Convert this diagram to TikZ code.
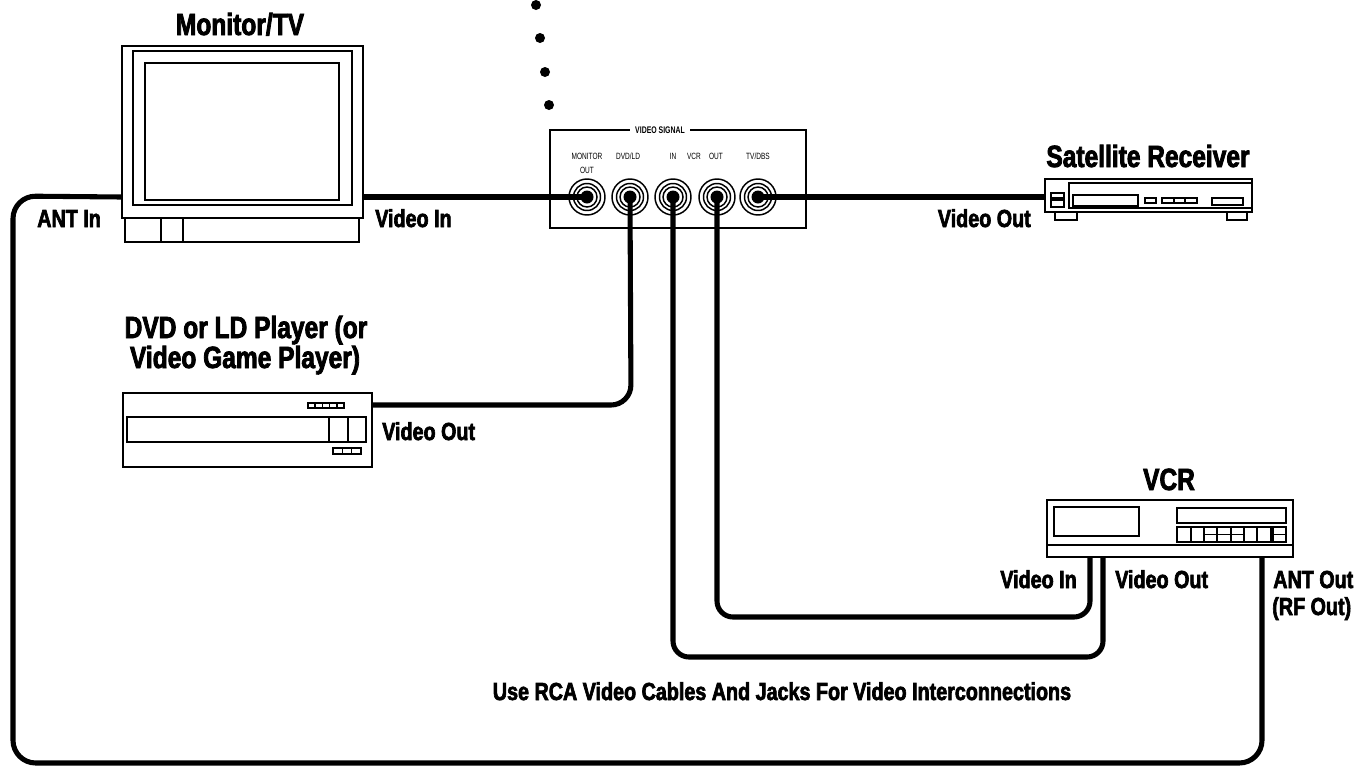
\documentclass[tikz,border=0pt]{standalone}
\usepackage{fontspec}
\newfontfamily\labf[FakeStretch=0.8,BoldFeatures={FakeBold=2.6}]{Liberation Sans}
\newfontfamily\panf[FakeStretch=0.72]{Liberation Sans}
\begin{document}
\begin{tikzpicture}[x=0.75pt,y=-0.75pt,
  lab/.style={inner sep=0pt,font={\labf\bfseries\fontsize{18.5pt}{20pt}\selectfont}},
  ttl/.style={inner sep=0pt,font={\labf\bfseries\fontsize{23pt}{24pt}\selectfont}},
  ptxt/.style={inner sep=0pt,font={\panf\fontsize{6.8pt}{7pt}\selectfont}},
  ptitle/.style={inner sep=0pt,font={\panf\bfseries\fontsize{7.2pt}{8pt}\selectfont}},
  dev/.style={draw,line width=1.5pt,inner sep=0pt},
  thin/.style={line width=1.1pt},
  cable/.style={line width=3.8pt,rounded corners=15pt},
  jack/.style={circle,draw,line width=1.1pt,inner sep=0pt,minimum size=27pt,fill=white},
  dot/.style={circle,fill=black,inner sep=0pt,minimum size=7.5pt}
]
\useasboundingbox (0,0) rectangle (1367,768);

% ---------- Monitor/TV ----------
\node[dev,minimum width=180.75pt,minimum height=129pt] (tv) at (242.5,132) {};
\draw[thin] (133,51) rectangle (352,205);
\draw[thin] (145,63) rectangle (339,200);
\node[dev,minimum width=175.5pt,minimum height=18pt] (tvbase) at (242,230) {};
\draw[thin] (161,218) -- (161,242) (183,218) -- (183,242);
\node[ttl,anchor=base] (tvt) at (240,35) {Monitor/TV};

% ---------- dots ----------
\node[dot] (d1) at (536,5) {};
\node[dot] (d2) at (540,38) {};
\node[dot] (d3) at (545,72) {};
\node[dot] (d4) at (549,105) {};

% ---------- Video signal panel ----------
\node[draw,line width=1.1pt,inner sep=0pt,minimum width=192pt,minimum height=73.5pt] (panel) at (678,179) {};
\node[ptitle,fill=white,inner xsep=4pt,inner ysep=2pt] (ptl) at (660,130) {VIDEO SIGNAL};
\node[ptxt,anchor=base] (l1) at (587,159) {MONITOR};
\node[ptxt,anchor=base] (l1b) at (587,173) {OUT};
\node[ptxt,anchor=base] (l2) at (628,159) {DVD/LD};
\node[ptxt,anchor=base] (l3) at (673,159) {IN};
\node[ptxt,anchor=base] (l3b) at (694,159) {VCR};
\node[ptxt,anchor=base] (l4) at (716,159) {OUT};
\node[ptxt,anchor=base] (l5) at (758,159) {TV/DBS};

\foreach \n/\x in {j1/587,j2/630,j3/673,j4/717,j5/758}{
  \node[jack] (\n) at (\x,197) {};
  \draw[line width=1.1pt] (\n.center) circle[radius=13.5];
  \draw[line width=1.1pt] (\n.center) circle[radius=10];
  \fill (\n.center) circle[radius=6.5];
}

% ---------- Satellite receiver ----------
\node[dev,minimum width=155.25pt,minimum height=24.75pt] (sat) at (1148.5,195.5) {};
\draw[thin] (1069,183) rectangle (1252,208);
\draw[thin] (1073,195) rectangle (1138,206);
\draw[thin] (1145,198) rectangle (1156,203);
\draw[thin] (1162,198) rectangle (1197,203) (1174,198) -- (1174,203) (1185,198) -- (1185,203);
\draw[thin] (1212,198) rectangle (1243,205);
\draw[thin] (1051,193) rectangle (1064,198);
\draw[thin] (1051,200) rectangle (1064,207);
\draw[line width=1.5pt] (1055,212) rectangle (1077,220);
\draw[line width=1.5pt] (1227,212) rectangle (1247,220);
\node[ttl,anchor=base] (satt) at (1148,167) {Satellite Receiver};

% ---------- DVD player ----------
\node[dev,minimum width=186.75pt,minimum height=55.5pt] (dvd) at (247.5,430) {};
\draw[thin] (127,417) rectangle (366,442);
\draw[thin] (329,417) -- (329,442) (348,417) -- (348,442);
\draw[thin] (308,403) rectangle (344,408);
\foreach \k in {1,...,4} \draw[thin] ({308+7.2*\k},403) -- ({308+7.2*\k},408);
\draw[thin] (333,448) rectangle (361,454);
\foreach \k in {1,2} \draw[thin] ({333+9.33*\k},448) -- ({333+9.33*\k},454);
\node[ttl,anchor=base] (dvdt1) at (246,338) {DVD or LD Player (or};
\node[ttl,anchor=base] (dvdt2) at (245,368) {Video Game Player)};

% ---------- VCR ----------
\node[dev,minimum width=184.5pt,minimum height=42.75pt] (vcr) at (1170,528.5) {};
\draw[thin] (1047,545) -- (1293,545);
\draw[thin] (1054,507) rectangle (1139,536);
\draw[thin] (1177,508) rectangle (1286,523);
\draw[thin] (1177,527) rectangle (1271,542);
\foreach \x in {1191,1204,1217,1231,1244,1257} \draw[thin] (\x,527) -- (\x,542);
\draw[thin] (1204,534.5) -- (1244,534.5);
\draw[thin] (1273,527) rectangle (1286,542) (1273,534.5) -- (1286,534.5);
\node[ttl,anchor=base] (vcrt) at (1169,490) {VCR};

% ---------- cables ----------
\coordinate (antout) at (1262,557);
\coordinate (vcrvin) at (1090,557);
\coordinate (vcrvout) at (1103,557);
\draw[cable,rounded corners=17pt] (tv.west |- j1.center) -- (13,196) -- (13,763) -- (1262,763) -- (antout);
\draw[cable] (tv.east |- j1.center) -- (j1.center);
\draw[cable] (j2.center) -- (631,405) -- (dvd.east |- 0,405);
\draw[cable,rounded corners=12pt] (j3.center) -- (673,657) -- (1103,657) -- (vcrvout);
\draw[cable,rounded corners=12pt] (j4.center) -- (717,617) -- (1090,617) -- (vcrvin);
\draw[cable] (j5.center) -- (sat.west |- j5.center);

% ---------- labels ----------
\node[lab,anchor=base west] (antin) at (37,227) {ANT In};
\node[lab,anchor=base west] (tvvin) at (375,227) {Video In};
\node[lab,anchor=base east] (satvo) at (1031,227) {Video Out};
\node[lab,anchor=base west] (dvdvo) at (382,440) {Video Out};
\node[lab,anchor=base east] (vcrvi) at (1077,588) {Video In};
\node[lab,anchor=base west] (vcrvo) at (1115,588) {Video Out};
\node[lab,anchor=base west] (anto1) at (1273,588) {ANT Out};
\node[lab,anchor=base west] (anto2) at (1272,615) {(RF Out)};
\node[lab,anchor=base] (note) at (782,700) {Use RCA Video Cables And Jacks For Video Interconnections};
\end{tikzpicture}
\end{document}
